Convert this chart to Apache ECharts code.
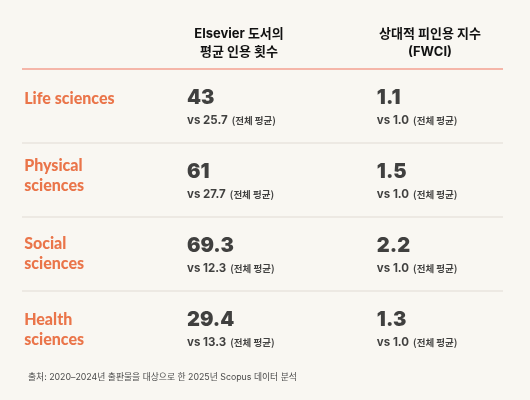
<!DOCTYPE html>
<html>
<head>
<meta charset="utf-8">
<script src="https://cdn.jsdelivr.net/npm/echarts@6/dist/echarts.min.js"></script>
<style>
  html, body { margin: 0; padding: 0; background: #f9f7f2; }
  #chart { width: 530px; height: 400px; }
</style>
</head>
<body>
<div id="chart"></div>
<script>
// table contents
const fields = ['Life sciences', 'Physical\nsciences', 'Social\nsciences', 'Health\nsciences'];
const columns = ['field', 'citations', 'fwci'];
const citations = [43, 61, 69.3, 29.4];
const citationsAvg = [25.7, 27.7, 12.3, 13.3];
const fwci = ['1.1', '1.5', '2.2', '1.3'];
const fwciAvg = ['1.0', '1.0', '1.0', '1.0'];
const headers = ['Elsevier 도서의\n평균 인용 횟수', '상대적 피인용 지수\n(FWCI)'];
const source = '출처: 2020–2024년 출판물을 대상으로 한 2025년 Scopus 데이터 분석';

// small vertical nudges for the field names (layout only)
const fieldNudge = [-7, -4, 0, 2];

const FONT = "Inter, 'Noto Sans CJK KR', sans-serif";
const KR = "'Noto Sans CJK KR', sans-serif";
const ORANGE = '#e6541f';
const INK = '#111111';

const chart = echarts.init(document.getElementById('chart'));

const valueRich = {
    big: { fontFamily: FONT, fontSize: 20, fontWeight: 900, color: INK, lineHeight: 25 },
    vs: { fontFamily: FONT, fontSize: 11.5, fontWeight: 700, color: INK, lineHeight: 21 },
    note: { fontFamily: KR, fontSize: 9.5, fontWeight: 700, color: INK, lineHeight: 21, padding: [0, 0, 0, 4] }
};

function valueSeries(col, vals, avgs, dx) {
    return {
        type: 'scatter',
        symbolSize: 0,
        data: vals.map((v, i) => [col, i, v, avgs[i]]),
        label: {
            show: true,
            position: 'right',
            distance: 0,
            offset: [dx, 2],
            formatter: p => '{big|' + p.value[2] + '}\n{vs|vs ' + p.value[3] + '}{note|(전체 평균)}',
            rich: valueRich
        },
        silent: true
    };
}

const option = {
    backgroundColor: '#f9f7f2',
    animation: false,
    title: [
        { text: headers[0], left: 234, top: 20, textAlign: 'center',
          textStyle: { fontFamily: FONT, fontSize: 13, fontWeight: 700, color: INK, lineHeight: 18 } },
        { text: headers[1], left: 425, top: 20, textAlign: 'center',
          textStyle: { fontFamily: FONT, fontSize: 13, fontWeight: 700, color: INK, lineHeight: 18 } },
        { text: source, left: 23, top: 368,
          textStyle: { fontFamily: FONT, fontSize: 8.8, fontWeight: 400, color: '#4a4a4a' } }
    ],
    grid: { left: 22, right: 27, top: 69, bottom: 35 },
    xAxis: {
        type: 'category',
        data: columns,
        show: false
    },
    yAxis: {
        type: 'category',
        data: fields,
        inverse: true,
        axisLine: { show: false },
        axisTick: { show: false },
        axisLabel: { show: false },
        splitLine: {
            show: true,
            interval: 0,
            lineStyle: { color: ['#f3a091', '#e8e5de', '#e8e5de', '#e8e5de', 'rgba(0,0,0,0)'], width: 1.5 }
        }
    },
    series: [
        {
            type: 'scatter',
            symbolSize: 0,
            data: fields.map((f, i) => ({
                value: [0, i, f],
                label: { offset: [-78, fieldNudge[i]] }
            })),
            label: {
                show: true,
                position: 'right',
                distance: 0,
                formatter: p => p.value[2],
                fontFamily: "Lato, 'Noto Sans', sans-serif",
                fontSize: 16,
                fontWeight: 900,
                color: ORANGE,
                lineHeight: 20
            },
            silent: true
        },
        valueSeries(1, citations, citationsAvg, -75.5),
        valueSeries(2, fwci, fwciAvg, -46)
    ]
};
option && chart.setOption(option);
</script>
</body>
</html>
